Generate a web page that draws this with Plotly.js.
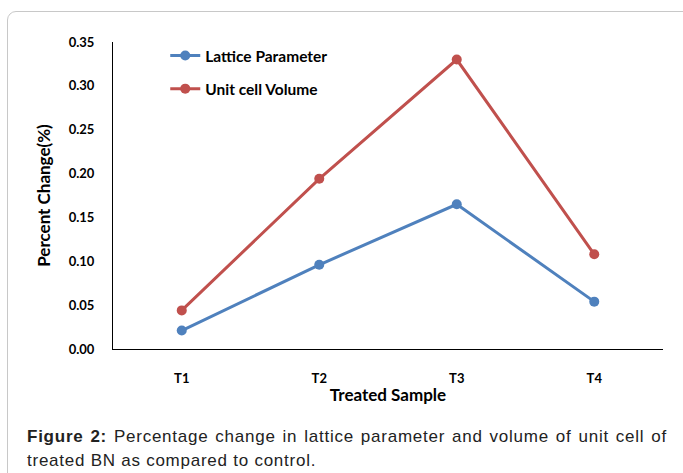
<!DOCTYPE html>
<html>
<head>
<meta charset="utf-8">
<script src="https://cdn.plot.ly/plotly-3.0.1.min.js"></script>
<style>
  html, body { margin: 0; padding: 0; background: #fff; width: 683px; height: 473px; overflow: hidden; }
  #frame { position: absolute; left: 7px; top: 11px; width: 700px; height: 500px;
           border: 1.5px solid #c8c8c8; border-radius: 9px; box-sizing: border-box; }
  #chart { position: absolute; left: 0; top: 0; width: 683px; height: 473px; }
  #caption { position: absolute; left: 27px; top: 425px; width: 640px;
             font-family: "Liberation Sans", Arial, sans-serif; font-size: 17px; line-height: 24px;
             letter-spacing: 0.75px; color: #222; }
  #caption .l1 { text-align: justify; text-align-last: justify; white-space: nowrap; }
  #caption b { font-weight: bold; }
</style>
</head>
<body>
<div id="frame"></div>
<div id="chart"></div>
<div id="caption"><div class="l1"><b>Figure 2:</b> Percentage change in lattice parameter and volume of unit cell of</div><div>treated BN as compared to control.</div></div>
<script>
const categories = ["T1", "T2", "T3", "T4"];
const latticeParameter = [0.021, 0.096, 0.165, 0.054];
const unitCellVolume = [0.044, 0.194, 0.330, 0.108];
const seriesNames = ["Lattice Parameter", "Unit cell Volume"];
const yTickValues = [0, 0.05, 0.10, 0.15, 0.20, 0.25, 0.30, 0.35];

const chartFont = "Lato, 'Open Sans', sans-serif";

const traces = [
  {
    x: categories, y: latticeParameter, name: seriesNames[0], type: "scatter", mode: "lines+markers",
    line: { color: "#4F81BD", width: 3 }, marker: { color: "#4F81BD", size: 10 }, legendgroup: "a"
  },
  {
    x: categories, y: unitCellVolume, name: seriesNames[1], type: "scatter", mode: "lines+markers",
    line: { color: "#C0504D", width: 3 }, marker: { color: "#C0504D", size: 10 }, legendgroup: "b"
  }
];

const layout = {
  width: 683, height: 473,
  margin: { l: 113, r: 20, t: 42, b: 124 },
  paper_bgcolor: "rgba(0,0,0,0)", plot_bgcolor: "rgba(0,0,0,0)",
  font: { family: chartFont, color: "#000", size: 13, weight: "bold" },
  showlegend: true,
  legend: {
    x: 0.095, y: 1.01, xanchor: "left", yanchor: "top",
    bgcolor: "rgba(0,0,0,0)", font: { family: chartFont, size: 15.5, weight: "bold" },
    tracegroupgap: 10
  },
  xaxis: {
    type: "category", range: [-0.5, 3.5], showgrid: false, zeroline: false,
    showline: true, linecolor: "#000", linewidth: 1, ticks: "",
    ticklabelstandoff: 17,
    tickfont: { family: chartFont, size: 13, weight: "bold" },
    title: { text: "Treated Sample", font: { family: chartFont, size: 17, weight: "bold" }, standoff: 4 }
  },
  yaxis: {
    range: [0, 0.35], tickvals: yTickValues, tickformat: ".2f",
    showgrid: false, zeroline: false, showline: true, linecolor: "#000", linewidth: 1, ticks: "",
    ticklabelstandoff: 15,
    tickfont: { family: chartFont, size: 13, weight: "bold" },
    title: { text: "Percent Change(%)", font: { family: chartFont, size: 17, weight: "bold" }, standoff: 13 }
  }
};

Plotly.newPlot("chart", traces, layout, { displayModeBar: false, staticPlot: true });
</script>
</body>
</html>
